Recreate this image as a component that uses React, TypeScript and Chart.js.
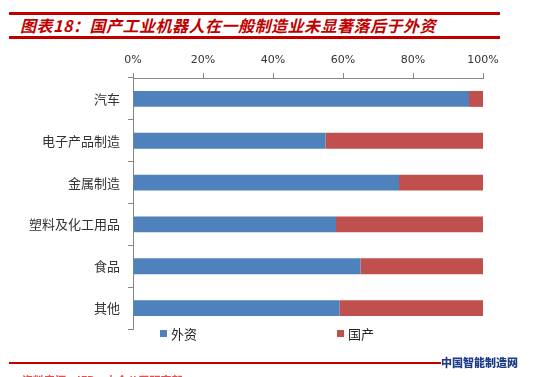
import React, { useEffect, useRef } from "react";
import { Chart, registerables } from "chart.js";

Chart.register(...registerables);

const categories = ["汽车", "电子产品制造", "金属制造", "塑料及化工用品", "食品", "其他"];
const foreignShare = [96, 55, 76, 58, 65, 59];
const domesticShare = [4, 45, 24, 42, 35, 41];
const seriesNames = ["外资", "国产"];
const xTicks = [0, 20, 40, 60, 80, 100];

const BLUE = "#4F81BD";
const RED = "#C0504D";
const CJK = '"Noto Sans CJK SC", "Noto Sans", sans-serif';

export default function App() {
  const ref = useRef<HTMLCanvasElement | null>(null);

  useEffect(() => {
    document.body.style.margin = "0";
    const ctx = ref.current!.getContext("2d")!;
    const chart = new Chart(ctx, {
      type: "bar",
      data: {
        labels: categories,
        datasets: [
          { label: seriesNames[0], data: foreignShare, backgroundColor: BLUE, barPercentage: 0.38, categoryPercentage: 1 },
          { label: seriesNames[1], data: domesticShare, backgroundColor: RED, barPercentage: 0.38, categoryPercentage: 1 },
        ],
      },
      options: {
        indexAxis: "y",
        responsive: false,
        animation: false,
        layout: { padding: { left: 0, top: 45, right: 54, bottom: 48 } },
        plugins: { legend: { display: false }, tooltip: { enabled: false }, title: { display: false } },
        scales: {
          x: {
            position: "top",
            stacked: true,
            min: 0,
            max: 100,
            afterBuildTicks: (s: any) => {
              s.ticks = xTicks.map((v) => ({ value: v }));
            },
            afterFit: (s: any) => {
              s.height = 33;
            },
            grid: { drawOnChartArea: false, drawTicks: true, tickLength: 5, color: "#868686" },
            border: { display: true, color: "#868686" },
            ticks: {
              padding: 6,
              color: "#333333",
              font: { family: '"DejaVu Sans", sans-serif', size: 11 },
              callback: (v: any) => v + "%",
            },
          },
          y: {
            stacked: true,
            afterFit: (s: any) => {
              s.width = 133;
            },
            grid: { drawOnChartArea: false, drawTicks: true, tickLength: 5, color: "#868686", offset: true },
            border: { display: true, color: "#868686" },
            ticks: {
              padding: 8,
              color: "#333333",
              font: { family: CJK, size: 13 },
            },
          },
        },
      },
    });
    return () => chart.destroy();
  }, []);

  const legendItem = (left: number, color: string, text: string) => (
    <div style={{ position: "absolute", left, top: 324, display: "flex", alignItems: "center", fontFamily: CJK, fontSize: 13, color: "#222" }}>
      <span style={{ display: "inline-block", width: 7, height: 7, background: color, marginRight: 4 }} />
      <span>{text}</span>
    </div>
  );

  return (
    <div style={{ position: "absolute", left: 0, top: 0, width: 537, height: 377, overflow: "hidden", background: "#fff" }}>
      <div style={{ position: "absolute", left: 9, top: 12, width: 491, height: 3, background: "#C00000" }} />
      <div
        style={{
          position: "absolute",
          left: 20,
          top: 15,
          fontFamily: CJK,
          fontSize: 16,
          fontWeight: 700,
          fontStyle: "italic",
          color: "#C00000",
          lineHeight: "20px",
          letterSpacing: "0.5px",
          whiteSpace: "nowrap",
        }}
      >
        图表18：国产工业机器人在一般制造业未显著落后于外资
      </div>
      <div style={{ position: "absolute", left: 9, top: 36, width: 491, height: 3, background: "#C00000" }} />
      <canvas ref={ref} width={537} height={377} style={{ position: "absolute", left: 0, top: 0 }} />
      {legendItem(160, BLUE, seriesNames[0])}
      {legendItem(337, RED, seriesNames[1])}
      <div style={{ position: "absolute", left: 9, top: 362, width: 432, height: 2, background: "#C00000" }} />
      <div
        style={{
          position: "absolute",
          left: 441,
          top: 354,
          fontFamily: CJK,
          fontSize: 11,
          fontWeight: 900,
          color: "#1F3C88",
          lineHeight: "16px",
          whiteSpace: "nowrap",
        }}
      >
        中国智能制造网
      </div>
      <div
        style={{
          position: "absolute",
          left: 22,
          top: 373,
          fontFamily: CJK,
          fontSize: 11,
          fontWeight: 700,
          color: "#E05050",
          lineHeight: "14px",
          whiteSpace: "nowrap",
        }}
      >
        资料来源：IFR，中金公司研究部
      </div>
    </div>
  );
}
